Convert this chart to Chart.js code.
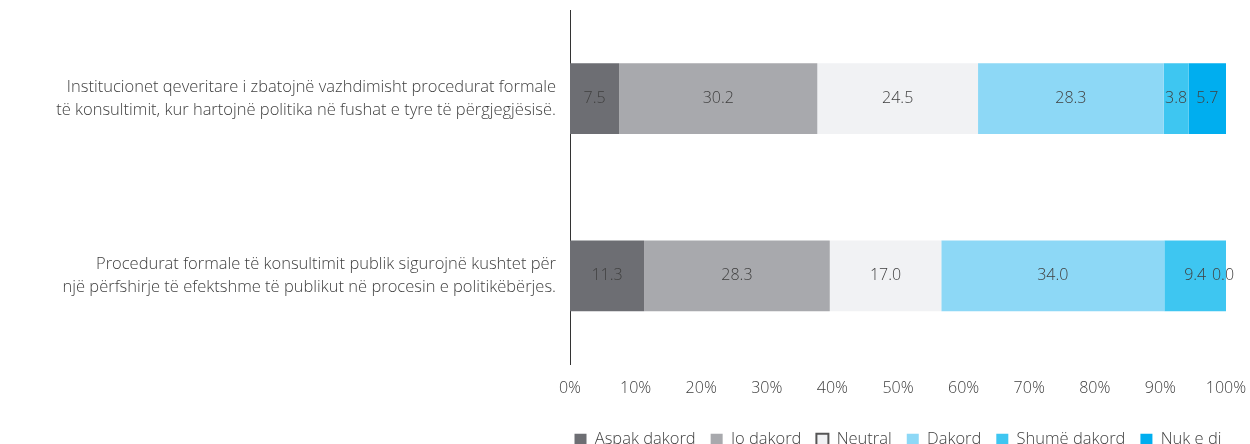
<!DOCTYPE html>
<html>
<head>
<meta charset="utf-8">
<script src="https://cdn.jsdelivr.net/npm/chart.js@4.4.1/dist/chart.umd.min.js"></script>
<style>
  html, body { margin: 0; padding: 0; background: #fff; overflow: hidden; }
  #wrap { width: 1250px; height: 458px; }
</style>
</head>
<body>
<div id="wrap"><canvas id="graph"></canvas></div>
<script>
// Categories (multi-line labels)
var categories = [
    ['Institucionet qeveritare i zbatojnë vazhdimisht procedurat formale', 'të konsultimit, kur hartojnë politika në fushat e tyre të përgjegjësisë.'],
    ['Procedurat formale të konsultimit publik sigurojnë kushtet për', 'një përfshirje të efektshme të publikut në procesin e politikëbërjes.']
];
// Series
var seriesNames = ['Aspak dakord', 'Jo dakord', 'Neutral', 'Dakord', 'Shumë dakord', 'Nuk e di'];
var aspak = [7.5, 11.3];
var joDakord = [30.2, 28.3];
var neutral = [24.5, 17.0];
var dakord = [28.3, 34.0];
var shumeDakord = [3.8, 9.4];
var nukEDi = [5.7, 0.0];
var seriesColors = ['#6d6e73', '#a8a9ad', '#f1f2f4', '#8dd8f6', '#3ec6f1', '#00aeef'];
// Ticks
var tickValues = [0, 10, 20, 30, 40, 50, 60, 70, 80, 90, 100];

var fontFamily = '"Open Sans", "Noto Sans", sans-serif';
var textColor = '#404040';

var datasets = [aspak, joDakord, neutral, dakord, shumeDakord, nukEDi].map(function (vals, i) {
    return {
        label: seriesNames[i],
        data: vals,
        backgroundColor: seriesColors[i],
        borderWidth: 0,
        barPercentage: 0.4,
        categoryPercentage: 1.0
    };
});

// Draw value labels in the middle of each segment
var valueLabels = {
    id: 'valueLabels',
    afterDatasetsDraw: function (chart) {
        var ctx = chart.ctx;
        ctx.save();
        ctx.font = '300 16px ' + fontFamily;
        ctx.fillStyle = textColor;
        ctx.textAlign = 'center';
        ctx.textBaseline = 'middle';
        chart.data.datasets.forEach(function (ds, di) {
            var meta = chart.getDatasetMeta(di);
            meta.data.forEach(function (bar, j) {
                var x = (bar.x + bar.base) / 2;
                var txt = ds.data[j].toFixed(1);
                if (ds.data[j] === 0) x = bar.x - 3;
                ctx.fillText(txt, x, bar.y);
            });
        });
        ctx.restore();
    }
};

// Center the legend under the plot area instead of the whole canvas
var legendUnderPlot = {
    id: 'legendUnderPlot',
    afterLayout: function (chart) {
        if (chart.legend) {
            chart.legend.left = chart.chartArea.left - 60;
            chart.legend.right = chart.chartArea.right + 60;
        }
    }
};

var config = {
    type: 'bar',
    data: { labels: categories, datasets: datasets },
    options: {
        indexAxis: 'y',
        responsive: true,
        maintainAspectRatio: false,
        animation: false,
        layout: { padding: { top: 10, right: 24, left: 0, bottom: 0 } },
        scales: {
            x: {
                stacked: true,
                min: 0,
                max: 100,
                afterBuildTicks: function (scale) {
                    scale.ticks = tickValues.map(function (v) { return { value: v }; });
                },
                afterFit: function (scale) {
                    scale.height = 52;
                    scale.paddingLeft = 0;
                    scale.paddingRight = 0;
                },
                grid: { display: false, drawTicks: false },
                border: { display: false },
                ticks: {
                    padding: 14,
                    color: textColor,
                    font: { family: fontFamily, size: 16, weight: '300' },
                    callback: function (v) { return v + '%'; }
                }
            },
            y: {
                stacked: true,
                afterFit: function (scale) {
                    scale.width = 570;
                    scale.paddingTop = 0;
                    scale.paddingBottom = 0;
                },
                grid: { display: false, drawTicks: false },
                border: { display: true, color: '#333333', width: 1 },
                ticks: {
                    padding: 14,
                    color: textColor,
                    font: { family: fontFamily, size: 16.5, weight: '300', lineHeight: 1.4 }
                }
            }
        },
        plugins: {
            tooltip: { enabled: false },
            legend: {
                position: 'bottom',
                align: 'center',
                labels: {
                    color: textColor,
                    font: { family: fontFamily, size: 16.5, weight: '300' },
                    boxWidth: 12,
                    boxHeight: 12,
                    padding: 15,
                    generateLabels: function (chart) {
                        return chart.data.datasets.map(function (ds, i) {
                            return {
                                text: ds.label,
                                fillStyle: ds.backgroundColor,
                                strokeStyle: i === 2 ? '#555555' : ds.backgroundColor,
                                lineWidth: i === 2 ? 2 : 0,
                                fontColor: textColor,
                                datasetIndex: i,
                                hidden: false
                            };
                        });
                    }
                }
            }
        }
    },
    plugins: [valueLabels, legendUnderPlot]
};

Chart.defaults.font.size = 16;
new Chart(document.getElementById('graph'), config);
</script>
</body>
</html>
